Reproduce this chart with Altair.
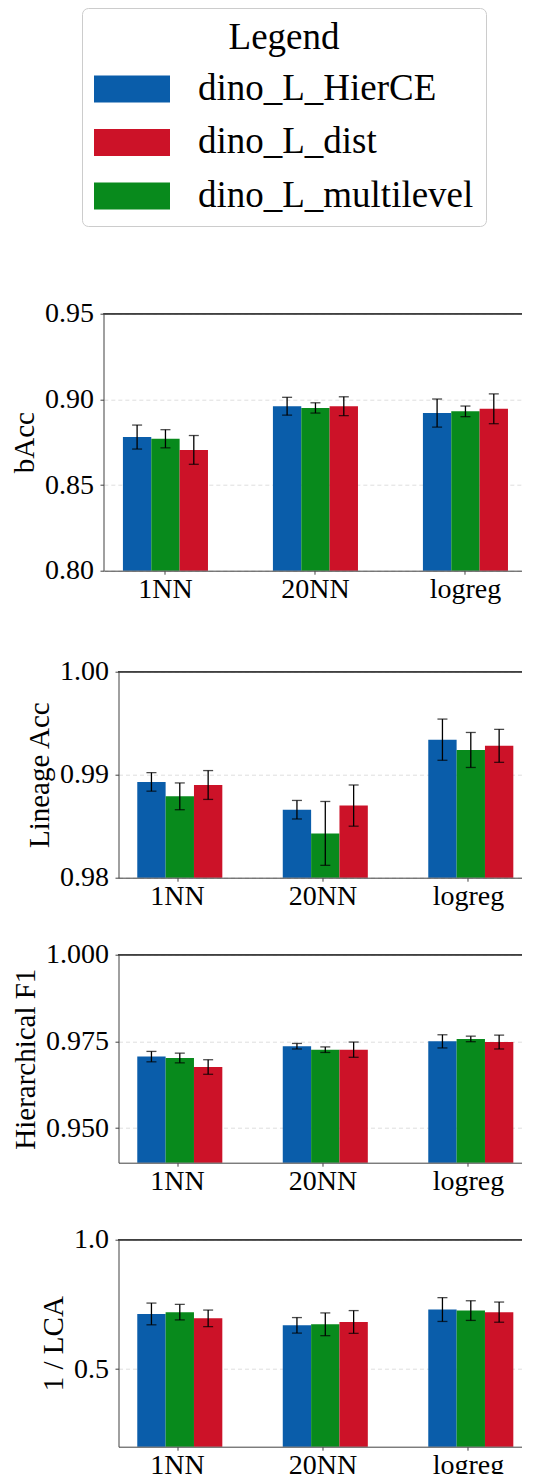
import altair as alt
import pandas as pd

# ---------------- data ----------------
groups = ["1NN", "20NN", "logreg"]
bar_order = ["dino_L_HierCE", "dino_L_multilevel", "dino_L_dist"]
legend_order = ["dino_L_HierCE", "dino_L_dist", "dino_L_multilevel"]
legend_colors = ["#0A5DAA", "#CC1228", "#088A1C"]

# bAcc (1NN, 20NN, logreg)
bacc_hierce = [0.878, 0.896, 0.892]
bacc_multilevel = [0.877, 0.895, 0.893]
bacc_dist = [0.8705, 0.896, 0.8945]
bacc_err_hierce = [0.0070, 0.0052, 0.0082]
bacc_err_multilevel = [0.0053, 0.0030, 0.0031]
bacc_err_dist = [0.0084, 0.0055, 0.0087]

# Lineage Acc
lin_hierce = [0.9893, 0.9866, 0.9934]
lin_multilevel = [0.9879, 0.9843, 0.9924]
lin_dist = [0.9890, 0.9870, 0.9928]
lin_err_hierce = [0.0009, 0.0009, 0.0020]
lin_err_multilevel = [0.0013, 0.0031, 0.0017]
lin_err_dist = [0.0014, 0.0020, 0.0016]

# Hierarchical F1
hf1_hierce = [0.9706, 0.9736, 0.9750]
hf1_multilevel = [0.9702, 0.9726, 0.9757]
hf1_dist = [0.9676, 0.9726, 0.9748]
hf1_err_hierce = [0.0015, 0.0008, 0.0019]
hf1_err_multilevel = [0.0014, 0.0008, 0.0008]
hf1_err_dist = [0.0021, 0.0022, 0.0020]

# 1 / LCA
lca_hierce = [0.713, 0.669, 0.730]
lca_multilevel = [0.720, 0.673, 0.726]
lca_dist = [0.696, 0.682, 0.720]
lca_err_hierce = [0.042, 0.030, 0.046]
lca_err_multilevel = [0.030, 0.044, 0.038]
lca_err_dist = [0.032, 0.044, 0.039]


def make_df(hier, multi, dist, e_hier, e_multi, e_dist):
    rows = []
    for s, vals, errs in [("dino_L_HierCE", hier, e_hier),
                          ("dino_L_multilevel", multi, e_multi),
                          ("dino_L_dist", dist, e_dist)]:
        for g, v, e in zip(groups, vals, errs):
            rows.append({"group": g, "series": s, "value": v, "err": e})
    return pd.DataFrame(rows)


FONT = "Liberation Serif"
AXIS_COLOR = "#404040"

legend = alt.Legend(
    orient="none", legendX=-36.5, legendY=-305.7, direction="vertical",
    title="Legend", titleFont=FONT, titleFontSize=37, titleFontWeight="normal",
    titleColor="black", titleAnchor="middle", titlePadding=13,
    labelFont=FONT, labelFontSize=37, labelColor="black", labelLimit=400,
    labelOffset=47,
    symbolType="M-2,-0.71L2,-0.71L2,0.71L-2,0.71Z", symbolSize=1444,
    symbolOffset=19, symbolStrokeWidth=0, symbolOpacity=1,
    rowPadding=16.5, padding=12, fillColor="white", strokeColor="#cccccc",
    cornerRadius=6,
)
color_scale = alt.Scale(domain=legend_order, range=legend_colors)


def panel(df, title, domain, ticks, fmt, height, pi, po,
          y_offset=0, x_range=None, spacer=False):
    x_kw = dict(paddingInner=pi, paddingOuter=po)
    if x_range is not None:
        x_kw["range"] = x_range
    x_scale = alt.Scale(**x_kw)
    y_scale = alt.Scale(domain=domain, nice=False, zero=False)
    xo = alt.XOffset("series:N", sort=bar_order,
                     scale=alt.Scale(paddingInner=0, paddingOuter=0))

    bottom_kw = dict(orient="bottom", labelAngle=0, tickSize=3.5, labelPadding=1,
                     domain=True, grid=False, zindex=1, title=None,
                     labelFont=FONT)
    if spacer:
        bottom_kw.update(title=" ", titleFontSize=12, titlePadding=13)
    x_axis = alt.Axis(**bottom_kw)
    y_kw = dict(values=ticks, format=fmt, title=title, grid=True,
                gridDash=[4, 3], gridColor="#d6d6d6", gridWidth=0.8,
                tickSize=3.5, labelPadding=6.5, titlePadding=5.5,
                labelFont=FONT, titleFont=FONT)
    if y_offset:
        y_kw["offset"] = y_offset
    y_axis = alt.Axis(**y_kw)

    x_enc = alt.X("group:N", sort=groups, scale=x_scale, axis=x_axis)

    bars = alt.Chart(df).mark_bar(clip=True).encode(
        x=x_enc,
        xOffset=xo,
        y=alt.Y("value:Q", scale=y_scale, axis=y_axis, title=title),
        color=alt.Color("series:N", scale=color_scale, legend=legend),
    )
    err = alt.Chart(df).transform_calculate(
        lo="datum.value - datum.err", hi="datum.value + datum.err"
    )
    rules = err.mark_rule(color="black", strokeWidth=1.3).encode(
        x=x_enc,
        xOffset=xo,
        y=alt.Y("lo:Q", scale=y_scale, axis=y_axis, title=title),
        y2="hi:Q",
    )
    caps = err.transform_fold(["lo", "hi"], as_=["end", "pos"]).mark_tick(
        color="black", thickness=1.3, size=10
    ).encode(
        x=x_enc,
        xOffset=xo,
        y=alt.Y("pos:Q", scale=y_scale, axis=y_axis, title=title),
    )
    # top spine of the frame
    x0 = x_range[0] if x_range is not None else 0
    x1 = x_range[1] if x_range is not None else 409
    top = alt.Chart(df).mark_rule(color=AXIS_COLOR, strokeWidth=1).encode(
        x=alt.value(x0), x2=alt.value(x1), y=alt.value(0)
    )
    return alt.layer(bars, rules, caps, top).properties(width=409, height=height)


p1 = panel(make_df(bacc_hierce, bacc_multilevel, bacc_dist,
                   bacc_err_hierce, bacc_err_multilevel, bacc_err_dist),
           "bAcc", [0.80, 0.95], [0.80, 0.85, 0.90, 0.95], ".2f", 257,
           0.433, 0.1275, y_offset=15, x_range=[-14.7, 408.6], spacer=True)
p2 = panel(make_df(lin_hierce, lin_multilevel, lin_dist,
                   lin_err_hierce, lin_err_multilevel, lin_err_dist),
           "Lineage Acc", [0.98, 1.00], [0.98, 0.99, 1.00], ".2f", 206,
           0.447, 0.129)
p3 = panel(make_df(hf1_hierce, hf1_multilevel, hf1_dist,
                   hf1_err_hierce, hf1_err_multilevel, hf1_err_dist),
           "Hierarchical F1", [0.94, 1.00], [0.950, 0.975, 1.000], ".3f", 208,
           0.447, 0.129)
p4 = panel(make_df(lca_hierce, lca_multilevel, lca_dist,
                   lca_err_hierce, lca_err_multilevel, lca_err_dist),
           "1 / LCA", [0.2, 1.0], [0.5, 1.0], ".1f", 207,
           0.447, 0.129)

chart = alt.vconcat(p1, p2, p3, p4, spacing=30).properties(
    padding={"left": 1.5, "top": -1.3, "right": -21, "bottom": -6}
).configure_view(stroke=None).configure_axis(
    labelFont=FONT, titleFont=FONT, labelFontSize=28, titleFontSize=29,
    titleFontWeight="normal", labelColor="black", titleColor="black",
    domainColor=AXIS_COLOR, domainWidth=1, tickColor=AXIS_COLOR, tickWidth=1,
)

chart.save("out.html", embed_options={"renderer": "svg", "actions": False})
